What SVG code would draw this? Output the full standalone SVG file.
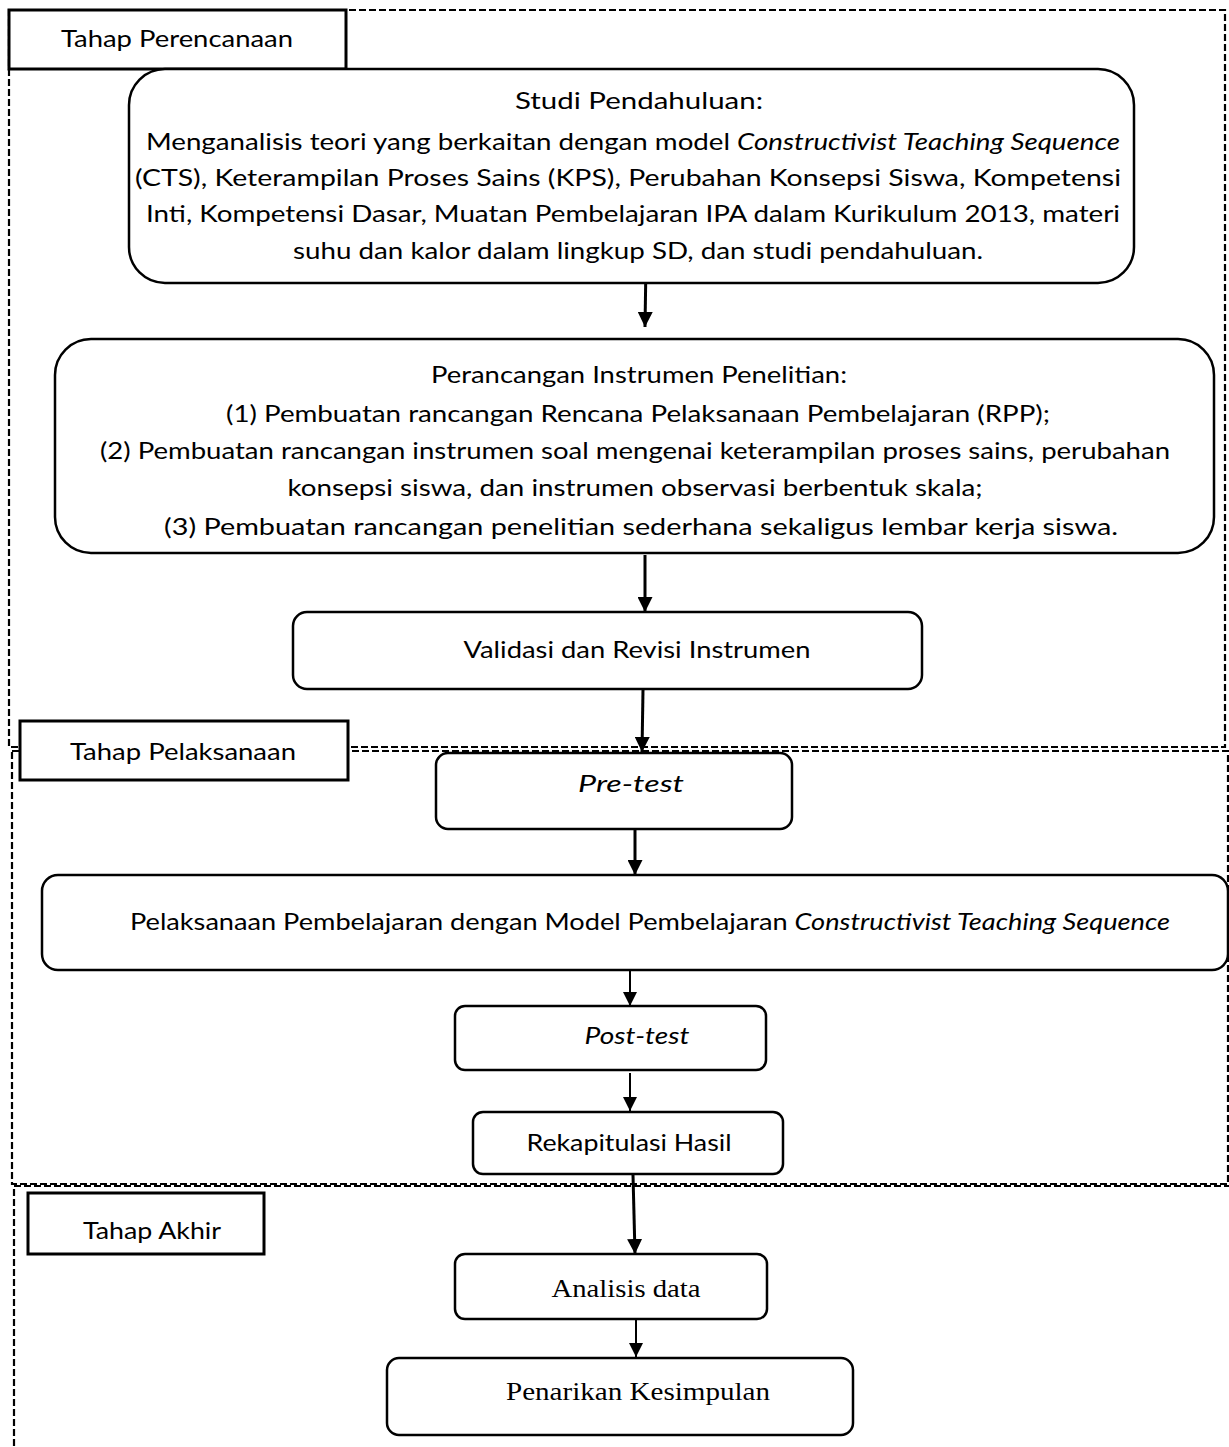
<svg xmlns="http://www.w3.org/2000/svg" width="1229" height="1447" viewBox="0 0 1229 1447">
<style>
.bg{fill:#fff}
.dash{fill:none;stroke:#000;stroke-width:2.2;stroke-dasharray:7 3}
.lbl{fill:#fff;stroke:#000;stroke-width:3}
.node{fill:#fff;stroke:#000;stroke-width:2.5}
.t{font-family:Lato,"Liberation Sans",sans-serif;font-size:24px;fill:#000;text-anchor:middle}
.s{font-family:"Liberation Serif","Times New Roman",serif;font-size:26px;fill:#000;text-anchor:middle}
.i{font-style:italic}
.arr{stroke:#000;stroke-width:3;fill:none}
</style>
<defs>
<marker id="ah" viewBox="0 0 10 10" refX="10" refY="5" markerWidth="5" markerHeight="5" markerUnits="strokeWidth" orient="auto">
<path d="M0,0 L10,5 L0,10 z" fill="#000"/>
</marker>
<marker id="ah2" viewBox="0 0 10 10" refX="10" refY="5" markerWidth="7" markerHeight="7" markerUnits="strokeWidth" orient="auto">
<path d="M0,0 L10,5 L0,10 z" fill="#000"/>
</marker>
</defs>
<rect class="bg" x="0" y="0" width="1229" height="1447"/>

<g id="stage-perencanaan">
<rect class="dash" x="9" y="10" width="1216" height="737"/>
<rect class="lbl" x="9" y="10" width="337" height="59"/>
<text class="t" x="177" y="47" textLength="232" lengthAdjust="spacingAndGlyphs">Tahap Perencanaan</text>
</g>
<g id="stage-pelaksanaan">
<rect class="dash" x="12" y="751" width="1216" height="433"/>
<rect class="lbl" x="20" y="721" width="328" height="59"/>
<text class="t" x="183" y="760" textLength="226" lengthAdjust="spacingAndGlyphs">Tahap Pelaksanaan</text>
</g>
<g id="stage-akhir">
<rect class="dash" x="14" y="1186" width="1230" height="300"/>
<rect class="lbl" x="28" y="1193" width="236" height="61"/>
<text class="t" x="152" y="1239" textLength="138" lengthAdjust="spacingAndGlyphs">Tahap Akhir</text>
</g>

<g id="connectors">
<line class="arr" x1="646" y1="262" x2="645" y2="327" marker-end="url(#ah)"/>
<line class="arr" x1="645" y1="555" x2="645" y2="612" marker-end="url(#ah)"/>
<line class="arr" x1="643" y1="690" x2="642" y2="752" marker-end="url(#ah)"/>
<line class="arr" x1="635" y1="830" x2="635" y2="875" marker-end="url(#ah)"/>
<line x1="630" y1="971" x2="630" y2="1006" stroke="#000" stroke-width="2" marker-end="url(#ah2)"/>
<line x1="630" y1="1073" x2="630" y2="1111" stroke="#000" stroke-width="2" marker-end="url(#ah2)"/>
<line class="arr" x1="633" y1="1175" x2="635" y2="1254" marker-end="url(#ah)"/>
<line x1="636" y1="1320" x2="636" y2="1357" stroke="#000" stroke-width="2" marker-end="url(#ah2)"/>
</g>

<g id="studi-pendahuluan">
<rect class="node" x="129" y="69" width="1005" height="214" rx="36"/>
<text class="t" x="639" y="109" textLength="248" lengthAdjust="spacingAndGlyphs">Studi Pendahuluan:</text>
<text class="t" x="633" y="150" textLength="974" lengthAdjust="spacingAndGlyphs">Menganalisis teori yang berkaitan dengan model <tspan class="i">Constructivist Teaching Sequence</tspan></text>
<text class="t" x="628" y="186" textLength="986" lengthAdjust="spacingAndGlyphs">(CTS), Keterampilan Proses Sains (KPS), Perubahan Konsepsi Siswa, Kompetensi</text>
<text class="t" x="633" y="222" textLength="974" lengthAdjust="spacingAndGlyphs">Inti, Kompetensi Dasar, Muatan Pembelajaran IPA dalam Kurikulum 2013, materi</text>
<text class="t" x="638" y="259" textLength="690" lengthAdjust="spacingAndGlyphs">suhu dan kalor dalam lingkup SD, dan studi pendahuluan.</text>
</g>

<g id="perancangan-instrumen">
<rect class="node" x="55" y="339" width="1159" height="214" rx="36"/>
<text class="t" x="639" y="383" textLength="416" lengthAdjust="spacingAndGlyphs">Perancangan Instrumen Penelitian:</text>
<text class="t" x="638" y="422" textLength="824" lengthAdjust="spacingAndGlyphs">(1) Pembuatan rancangan Rencana Pelaksanaan Pembelajaran (RPP);</text>
<text class="t" x="635" y="459" textLength="1070" lengthAdjust="spacingAndGlyphs">(2) Pembuatan rancangan instrumen soal mengenai keterampilan proses sains, perubahan</text>
<text class="t" x="635" y="496" textLength="695" lengthAdjust="spacingAndGlyphs">konsepsi siswa, dan instrumen observasi berbentuk skala;</text>
<text class="t" x="641" y="535" textLength="954" lengthAdjust="spacingAndGlyphs">(3) Pembuatan rancangan penelitian sederhana sekaligus lembar kerja siswa.</text>
</g>

<g id="validasi">
<rect class="node" x="293" y="612" width="629" height="77" rx="14"/>
<text class="t" x="637" y="658" textLength="347" lengthAdjust="spacingAndGlyphs">Validasi dan Revisi Instrumen</text>
</g>

<g id="pre-test">
<rect class="node" x="436" y="753" width="356" height="76" rx="12"/>
<text class="t i" x="631" y="792" textLength="106" lengthAdjust="spacingAndGlyphs">Pre-test</text>
</g>

<g id="pelaksanaan-pembelajaran">
<rect class="node" x="42" y="875" width="1186" height="95" rx="16"/>
<text class="t" x="650" y="930" textLength="1040" lengthAdjust="spacingAndGlyphs">Pelaksanaan Pembelajaran dengan Model Pembelajaran <tspan class="i">Constructivist Teaching Sequence</tspan></text>
</g>

<g id="post-test">
<rect class="node" x="455" y="1006" width="311" height="64" rx="10"/>
<text class="t i" x="637" y="1044" textLength="105" lengthAdjust="spacingAndGlyphs">Post-test</text>
</g>

<g id="rekapitulasi">
<rect class="node" x="473" y="1112" width="310" height="62" rx="10"/>
<text class="t" x="629" y="1151" textLength="205" lengthAdjust="spacingAndGlyphs">Rekapitulasi Hasil</text>
</g>

<g id="analisis-data">
<rect class="node" x="455" y="1254" width="312" height="65" rx="10"/>
<text class="s" x="626" y="1297" textLength="149" lengthAdjust="spacingAndGlyphs">Analisis data</text>
</g>

<g id="penarikan-kesimpulan">
<rect class="node" x="387" y="1358" width="466" height="77" rx="12"/>
<text class="s" x="638" y="1400" textLength="264" lengthAdjust="spacingAndGlyphs">Penarikan Kesimpulan</text>
</g>
</svg>
